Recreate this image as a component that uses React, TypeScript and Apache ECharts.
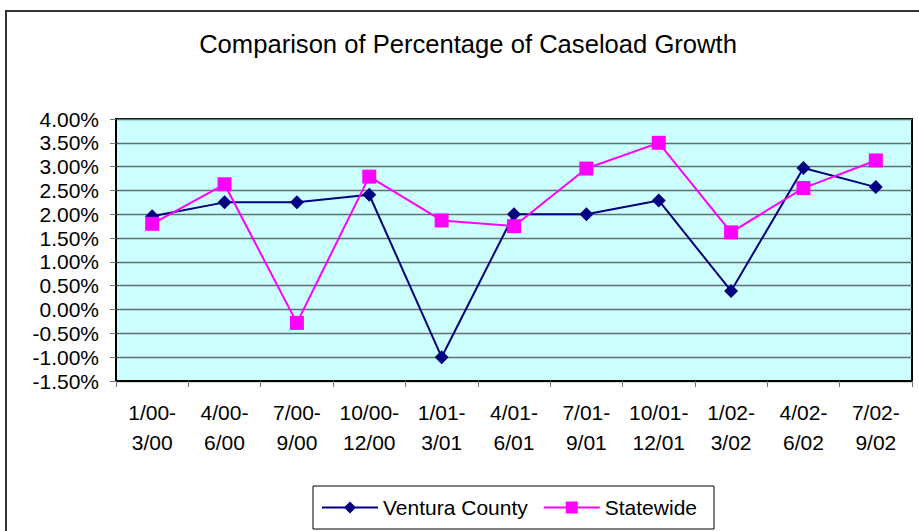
import React, { useEffect, useRef } from "react";
import * as echarts from "echarts";

const categories = [
  "1/00-\n3/00",
  "4/00-\n6/00",
  "7/00-\n9/00",
  "10/00-\n12/00",
  "1/01-\n3/01",
  "4/01-\n6/01",
  "7/01-\n9/01",
  "10/01-\n12/01",
  "1/02-\n3/02",
  "4/02-\n6/02",
  "7/02-\n9/02",
];

const venturaCounty = [1.96, 2.25, 2.25, 2.41, -1.0, 2.0, 2.0, 2.29, 0.39, 2.97, 2.57];
const statewide = [1.8, 2.63, -0.28, 2.79, 1.87, 1.75, 2.96, 3.5, 1.62, 2.55, 3.13];

const yMin = -1.5;
const yMax = 4.0;
const yInterval = 0.5;

const FONT = "Liberation Sans, Arial, sans-serif";

export default function App() {
  const ref = useRef<HTMLDivElement>(null);

  useEffect(() => {
    if (!ref.current) return;
    const chart = echarts.init(ref.current, null, { renderer: "svg" });
    chart.setOption({
      animation: false,
      backgroundColor: "#ffffff",
      title: {
        text: "Comparison of Percentage of Caseload Growth",
        left: 463,
        textAlign: "center",
        top: 26,
        textStyle: { fontFamily: FONT, fontSize: 25.6, fontWeight: "normal", color: "#000" },
      },
      graphic: [
        {
          type: "rect",
          shape: { x: 6, y: 11, width: 1000, height: 1000 },
          style: { fill: "none", stroke: "#333", lineWidth: 2 },
          silent: true,
        },
      ],
      legend: {
        left: 313,
        top: 486,
        padding: [11, 17, 11, 8],
        borderColor: "#000",
        borderWidth: 1,
        itemWidth: 56,
        itemHeight: 15,
        itemGap: 15,
        textStyle: { fontFamily: FONT, fontSize: 21, color: "#000" },
        data: ["Ventura County", "Statewide"],
      },
      grid: {
        left: 116,
        right: 7,
        top: 119,
        bottom: 150,
        show: true,
        backgroundColor: "#CCFFFF",
        borderColor: "#000",
        borderWidth: 2,
      },
      xAxis: {
        type: "category",
        data: categories,
        boundaryGap: true,
        axisLine: { show: true, onZero: false, lineStyle: { color: "#000", width: 2 } },
        axisTick: { show: true, length: 6, alignWithLabel: false, lineStyle: { color: "#777" } },
        axisLabel: {
          fontFamily: FONT,
          fontSize: 21,
          color: "#000",
          lineHeight: 30,
          margin: 16,
          interval: 0,
        },
        splitLine: { show: false },
      },
      yAxis: {
        type: "value",
        min: yMin,
        max: yMax,
        interval: yInterval,
        axisLine: { show: true, lineStyle: { color: "#000", width: 2 } },
        axisTick: { show: true, length: 6, lineStyle: { color: "#777" } },
        axisLabel: {
          fontFamily: FONT,
          fontSize: 21,
          color: "#000",
          margin: 17,
          formatter: (v: number) => v.toFixed(2) + "%",
        },
        splitLine: { show: true, lineStyle: { color: "#607070", width: 1.3 } },
      },
      series: [
        {
          name: "Ventura County",
          type: "line",
          data: venturaCounty,
          symbol: "diamond",
          symbolSize: 14,
          lineStyle: { color: "#000080", width: 2 },
          itemStyle: { color: "#000080" },
        },
        {
          name: "Statewide",
          type: "line",
          data: statewide,
          symbol: "rect",
          symbolSize: 14,
          lineStyle: { color: "#FF00FF", width: 2 },
          itemStyle: { color: "#FF00FF" },
        },
      ],
    });
    return () => chart.dispose();
  }, []);

  return (
    <div
      ref={ref}
      style={{ position: "fixed", left: 0, top: 0, width: 919, height: 531 }}
    />
  );
}
